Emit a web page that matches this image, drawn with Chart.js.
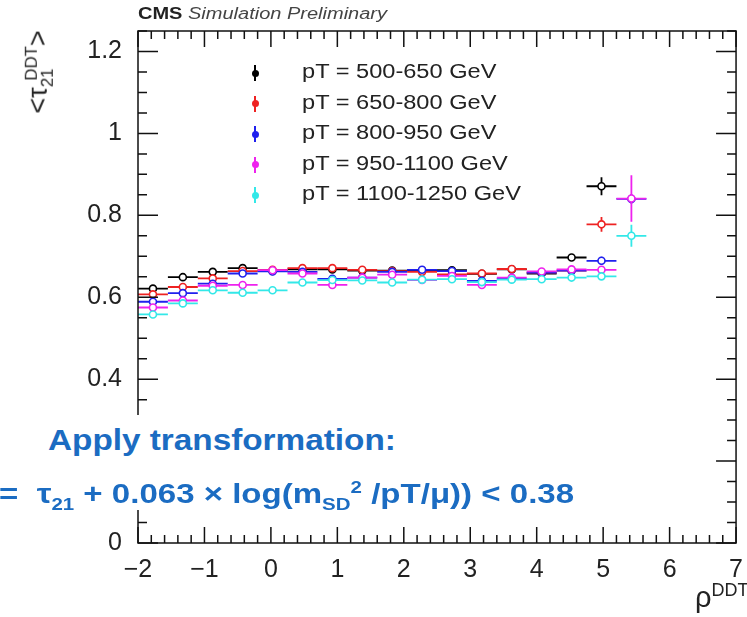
<!DOCTYPE html>
<html>
<head>
<meta charset="utf-8">
<script src="https://cdn.jsdelivr.net/npm/chart.js@4.4.0/dist/chart.umd.min.js"></script>
<style>
  body { margin: 0; background: #fff; }
  #wrap { position: relative; width: 747px; height: 617px; overflow: hidden; font-family: "Liberation Sans", Arial, sans-serif; }
  #c { position: absolute; left: 0; top: 0; }
  .ov { position: absolute; white-space: nowrap; }
  .cms { left: 138px; top: 5px; font-size: 16px; color: #222; transform: scaleX(1.25); transform-origin: left center; }
  .cms i { color: #444; }
  .leg { left: 246px; top: 58px; }
  .leg .row { position: relative; height: 30.5px; }
  .leg .mk { position: absolute; left: 8px; top: 7px; width: 2px; height: 16px; }
  .leg .dot { position: absolute; left: 5.5px; top: 11.5px; width: 7px; height: 7px; border-radius: 50%; }
  .leg .tx { position: absolute; left: 56px; top: 2px; font-size: 20px; color: #222; transform: scaleX(1.18); transform-origin: left center; }
  .box { background: #fff; color: #1b6cc2; font-weight: bold; }
  .ytitle { left: 40px; top: 72px; font-size: 27px; color: #222; transform: translate(-50%, -50%) rotate(-90deg); }
  .xtitle { left: 695px; top: 580px; font-size: 29px; color: #222; }
  sub, sup { font-size: 62%; }
</style>
</head>
<body>
<div id="wrap">
  <canvas id="c" width="747" height="617"></canvas>
  <div class="ov cms"><b>CMS</b> <i>Simulation Preliminary</i></div>
  <div class="ov leg" id="legend"></div>
  <div class="ov ytitle">&lt;τ<sub>21</sub><sup style="margin-left:-12px">DDT</sup>&gt;</div>
  <div class="ov xtitle">ρ<sup>DDT</sup></div>
  <div class="ov box" style="left:43px;top:415px;width:355px;height:50px;"></div>
  <div class="ov box" style="left:48px;top:415px;height:50px;font-size:30px;line-height:50px;transform:scaleX(1.11);transform-origin:left center;">Apply transformation:</div>
  <div class="ov box" style="left:0;top:465px;width:582px;height:45px;"></div>
  <div class="ov box" style="left:-1px;top:465px;height:45px;font-size:28px;line-height:45px;transform:scaleX(1.18);transform-origin:left center;">=&nbsp; τ<sub>21</sub> + 0.063 × log(m<sub>SD</sub><sup>2</sup> /pT/μ)) &lt; 0.38</div>
</div>
<script>
// bin centres in rho^DDT, each bin 0.45 wide
var rho = [-1.775, -1.325, -0.875, -0.425, 0.025, 0.475, 0.925, 1.375, 1.825, 2.275, 2.725, 3.175, 3.625, 4.075, 4.525, 4.975, 5.425];
var halfBin = 0.225;

var labels = ['pT = 500-650 GeV', 'pT = 650-800 GeV', 'pT = 800-950 GeV', 'pT = 950-1100 GeV', 'pT = 1100-1250 GeV'];
var colors = ['#000000', '#ee2222', '#2020ee', '#ee22ee', '#33e8e8'];

var tau500  = [0.621, 0.649, 0.662, 0.671, 0.664, 0.668, 0.668, 0.665, 0.665, 0.666, 0.666, 0.657, 0.668, 0.658, 0.697, 0.871, null];
var tau650  = [0.607, 0.625, 0.646, 0.664, 0.667, 0.671, 0.671, 0.667, 0.664, 0.662, 0.656, 0.658, 0.669, 0.660, 0.665, 0.778, null];
var tau800  = [0.589, 0.610, 0.633, 0.658, 0.663, 0.662, 0.645, 0.648, 0.662, 0.667, 0.664, 0.640, 0.645, 0.660, 0.665, 0.689, 0.840];
var tau950  = [0.575, 0.592, 0.628, 0.630, 0.666, 0.658, 0.630, 0.648, 0.655, 0.642, 0.652, 0.630, 0.648, 0.663, 0.668, 0.667, 0.841];
var tau1100 = [0.558, 0.585, 0.617, 0.611, 0.617, 0.636, 0.642, 0.641, 0.636, 0.643, 0.644, 0.637, 0.643, 0.644, 0.648, 0.651, 0.750];

var err500  = [0.004, 0.004, 0.004, 0.004, 0.004, 0.004, 0.004, 0.004, 0.004, 0.004, 0.004, 0.004, 0.004, 0.004, 0.006, 0.022, 0];
var err650  = [0.004, 0.004, 0.004, 0.004, 0.004, 0.004, 0.004, 0.004, 0.004, 0.004, 0.004, 0.004, 0.004, 0.004, 0.005, 0.018, 0];
var err800  = [0.004, 0.004, 0.004, 0.004, 0.004, 0.004, 0.004, 0.004, 0.004, 0.004, 0.004, 0.004, 0.004, 0.004, 0.005, 0.010, 0.012];
var err950  = [0.004, 0.004, 0.004, 0.004, 0.004, 0.004, 0.004, 0.004, 0.004, 0.004, 0.004, 0.004, 0.004, 0.004, 0.005, 0.006, 0.057];
var err1100 = [0.004, 0.004, 0.004, 0.004, 0.004, 0.004, 0.004, 0.004, 0.004, 0.004, 0.004, 0.004, 0.004, 0.004, 0.005, 0.006, 0.027];

var xTicks = [-2, -1, 0, 1, 2, 3, 4, 5, 6, 7];
var yTicks = [0, 0.2, 0.4, 0.6, 0.8, 1, 1.2];

var series = [tau500, tau650, tau800, tau950, tau1100];
var errors = [err500, err650, err800, err950, err1100];

var datasets = series.map(function(vals, i) {
	var pts = [];
	rho.forEach(function(r, j) {
		if (vals[j] !== null) pts.push({x: r, y: vals[j], ey: errors[i][j]});
	});
	return {
		label: labels[i],
		data: pts,
		borderColor: colors[i],
		backgroundColor: '#ffffff',
		pointRadius: 3.5,
		pointBorderWidth: 1.6,
		order: 5 - i
	};
});

// legend
var leg = document.getElementById('legend');
labels.forEach(function(l, i) {
	leg.innerHTML += '<div class="row"><div class="mk" style="background:' + colors[i] + '"></div>' +
		'<div class="dot" style="background:' + colors[i] + '"></div><div class="tx">' + l + '</div></div>';
});

var errorBars = {
	id: 'errorBars',
	beforeDatasetDraw: function(chart, args) {
		var ds = chart.data.datasets[args.index];
		var c = chart.ctx, xs = chart.scales.x, ys = chart.scales.y;
		c.save();
		c.strokeStyle = ds.borderColor;
		c.lineWidth = 1.8;
		ds.data.forEach(function(p) {
			var py = ys.getPixelForValue(p.y);
			c.beginPath();
			c.moveTo(xs.getPixelForValue(p.x - halfBin), py);
			c.lineTo(xs.getPixelForValue(p.x + halfBin), py);
			var px = xs.getPixelForValue(p.x);
			c.moveTo(px, ys.getPixelForValue(p.y - p.ey));
			c.lineTo(px, ys.getPixelForValue(p.y + p.ey));
			c.stroke();
		});
		c.restore();
	}
};

// ROOT style frame with ticks pointing inwards
var rootFrame = {
	id: 'rootFrame',
	afterDraw: function(chart) {
		var c = chart.ctx, a = chart.chartArea, xs = chart.scales.x, ys = chart.scales.y;
		c.save();
		c.strokeStyle = '#111';
		c.lineWidth = 1.5;
		c.strokeRect(a.left, a.top, a.right - a.left, a.bottom - a.top);
		c.beginPath();
		for (var v = -2; v <= 7.0001; v += 0.2) {
			var major = Math.abs(v - Math.round(v)) < 1e-6;
			var len = major ? 16 : 8;
			var px = xs.getPixelForValue(v);
			c.moveTo(px, a.bottom); c.lineTo(px, a.bottom - len);
			c.moveTo(px, a.top); c.lineTo(px, a.top + len);
		}
		for (var k = 0; k <= 25; k++) {
			var yv = k * 0.05;
			var len2 = (k % 4 === 0) ? 20 : 9;
			var py = ys.getPixelForValue(yv);
			c.moveTo(a.left, py); c.lineTo(a.left + len2, py);
			c.moveTo(a.right, py); c.lineTo(a.right - len2, py);
		}
		c.stroke();
		c.restore();
	}
};

var ctx = document.getElementById('c').getContext('2d');
var chart = new Chart(ctx, {
	type: 'scatter',
	data: {datasets: datasets},
	options: {
		responsive: false,
		animation: false,
		layout: {padding: {top: 31, right: 6, left: 0, bottom: 0}},
		plugins: {legend: {display: false}, tooltip: {enabled: false}},
		scales: {
			x: {
				type: 'linear', min: -2, max: 7,
				afterBuildTicks: function(s) { s.ticks = xTicks.map(function(v) { return {value: v}; }); },
				afterFit: function(s) { s.height = 74; },
				grid: {display: false}, border: {display: false},
				ticks: {
					color: '#222', padding: 4, maxRotation: 0,
					font: {family: 'Liberation Sans', size: 25},
					callback: function(v) { return v < 0 ? '\u2212' + Math.abs(v) : '' + v; }
				}
			},
			y: {
				type: 'linear', min: 0, max: 1.25,
				afterBuildTicks: function(s) { s.ticks = yTicks.map(function(v) { return {value: v}; }); },
				afterFit: function(s) { s.width = 138; },
				grid: {display: false}, border: {display: false},
				ticks: {
					color: '#222', padding: 8,
					font: {family: 'Liberation Sans', size: 25},
					callback: function(v) { return '' + Math.round(v * 10) / 10; }
				}
			}
		}
	},
	plugins: [errorBars, rootFrame]
});
</script>
</body>
</html>
